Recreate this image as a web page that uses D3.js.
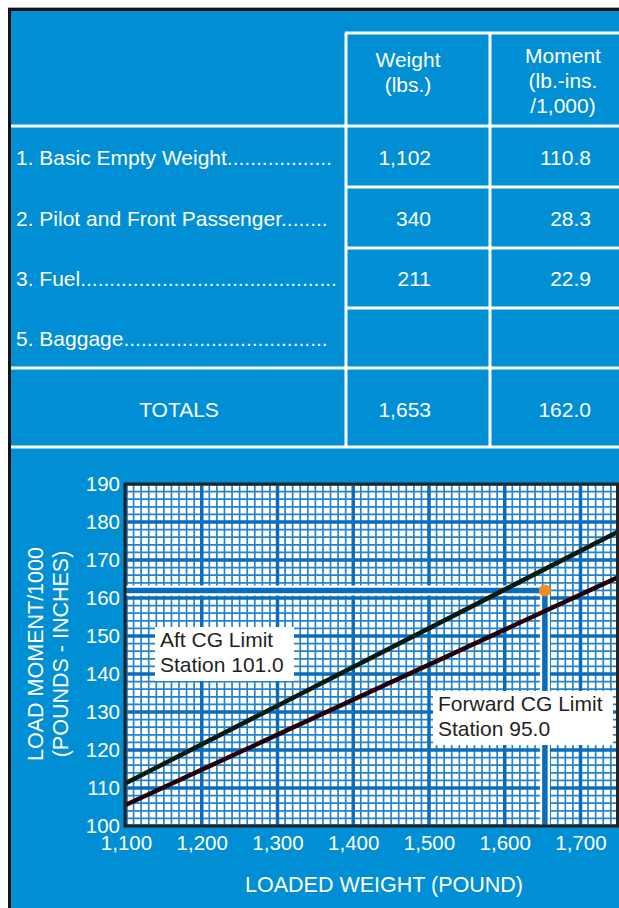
<!DOCTYPE html>
<html>
<head>
<meta charset="utf-8">
<script src="https://cdn.jsdelivr.net/npm/d3@7"></script>
<style>
  body { margin: 0; background: #fff; }
  svg { display: block; font-family: "Liberation Sans", Arial, sans-serif; }
</style>
</head>
<body>
<svg id="chart" width="619" height="908"></svg>
<script>
// table data
const rowLabels = ['1. Basic Empty Weight', '2. Pilot and Front Passenger', '3. Fuel', '5. Baggage'];
const rowDots = [18, 8, 44, 35];
const rowWeights = ['1,102', '340', '211', ''];
const rowMoments = ['110.8', '28.3', '22.9', ''];
const totalWeight = 1653;
const totalMoment = 162.0;

// chart data
const xTicks = [1100, 1200, 1300, 1400, 1500, 1600, 1700];
const yTicks = [100, 110, 120, 130, 140, 150, 160, 170, 180, 190];
const aftLimit = [[1100, 111.3], [1750, 177.5]];     // station 101.0
const forwardLimit = [[1100, 105.6], [1750, 165.5]]; // station 95.0

const blue = '#008fd5';
const gridBlue = '#2483cc';
const majorBlue = '#0a6dbc';

const svg = d3.select('#chart');

// panel
svg.append('rect').attr('x', 8).attr('y', 7).attr('width', 620).attr('height', 910)
  .attr('fill', '#aaa');
svg.append('rect').attr('x', 8).attr('y', 8).attr('width', 620).attr('height', 910)
  .attr('fill', '#111');
svg.append('rect').attr('x', 11).attr('y', 11).attr('width', 620).attr('height', 910)
  .attr('fill', blue);

// ---- table ----
const t = svg.append('g');
const white = (x1, y1, x2, y2) => t.append('line')
  .attr('x1', x1).attr('y1', y1).attr('x2', x2).attr('y2', y2)
  .attr('stroke', '#fff').attr('stroke-width', 3);

white(345, 33, 619, 33);
white(11, 126, 619, 126);
[187, 248, 308].forEach(y => white(346, y, 619, y));
white(11, 368, 619, 368);
white(11, 447, 619, 447);
white(346, 33, 346, 447);
white(490, 33, 490, 447);

const txt = (x, y, s, anchor) => t.append('text')
  .attr('x', x).attr('y', y).attr('text-anchor', anchor || 'middle')
  .attr('fill', '#fff').attr('font-size', 21).text(s);

txt(408, 67, 'Weight');
txt(408, 92, '(lbs.)');
txt(563, 63, 'Moment');
txt(563, 88, '(lb.-ins.');
txt(563, 113, '/1,000)');

const rowY = [165, 226, 286, 346];
rowLabels.forEach((s, i) => {
  txt(16, rowY[i], s + '.'.repeat(rowDots[i]), 'start');
  txt(431, rowY[i], rowWeights[i], 'end');
  txt(591, rowY[i], rowMoments[i], 'end');
});
txt(179, 417, 'TOTALS');
txt(431, 417, d3.format(',')(totalWeight), 'end');
txt(591, 417, d3.format('.1f')(totalMoment), 'end');

// ---- chart ----
const pLeft = 125, pTop = 484, pBottom = 826, pRight = 617.5;
const x = d3.scaleLinear().domain([1100, 1700]).range([126, 580.5]);
const y = d3.scaleLinear().domain([100, 190]).range([pBottom, pTop]);

const plot = svg.append('g');
plot.append('clipPath').attr('id', 'clip').append('rect')
  .attr('x', pLeft).attr('y', pTop).attr('width', pRight - pLeft).attr('height', pBottom - pTop);
const g = plot.append('g').attr('clip-path', 'url(#clip)');

g.append('rect').attr('x', pLeft).attr('y', pTop).attr('width', pRight - pLeft)
  .attr('height', pBottom - pTop).attr('fill', '#fff');

// minor grid
g.selectAll('.vminor').data(d3.range(1100, 1770, 10)).join('line')
  .attr('x1', d => x(d)).attr('x2', d => x(d)).attr('y1', pTop).attr('y2', pBottom)
  .attr('stroke', gridBlue).attr('stroke-width', 1.7);
g.selectAll('.hminor').data(d3.range(100, 191, 2)).join('line')
  .attr('y1', d => y(d)).attr('y2', d => y(d)).attr('x1', pLeft).attr('x2', pRight)
  .attr('stroke', gridBlue).attr('stroke-width', 1.7);
// major grid
g.selectAll('.vmajor').data(d3.range(1100, 1800, 100)).join('line')
  .attr('x1', d => x(d)).attr('x2', d => x(d)).attr('y1', pTop).attr('y2', pBottom)
  .attr('stroke', majorBlue).attr('stroke-width', 3.5);
g.selectAll('.hmajor').data(yTicks).join('line')
  .attr('y1', d => y(d)).attr('y2', d => y(d)).attr('x1', pLeft).attr('x2', pRight)
  .attr('stroke', majorBlue).attr('stroke-width', 3.5);

// reading lines for the totals
const px = x(totalWeight), py = y(totalMoment);
g.append('line').attr('x1', pLeft).attr('x2', px).attr('y1', py).attr('y2', py)
  .attr('stroke', '#fff').attr('stroke-width', 10);
g.append('line').attr('x1', px).attr('x2', px).attr('y1', py).attr('y2', pBottom)
  .attr('stroke', '#fff').attr('stroke-width', 10);
g.append('line').attr('x1', pLeft).attr('x2', px).attr('y1', py).attr('y2', py)
  .attr('stroke', majorBlue).attr('stroke-width', 5.5);
g.append('line').attr('x1', px).attr('x2', px).attr('y1', py).attr('y2', pBottom)
  .attr('stroke', majorBlue).attr('stroke-width', 5.5);

// limit lines
const line = d3.line().x(d => x(d[0])).y(d => y(d[1]));
g.append('path').datum(aftLimit).attr('d', line)
  .attr('stroke', '#031a0c').attr('stroke-width', 4.5).attr('fill', 'none');
g.append('path').datum(forwardLimit).attr('d', line)
  .attr('stroke', '#240006').attr('stroke-width', 4.5).attr('fill', 'none');

g.append('circle').attr('cx', px).attr('cy', py).attr('r', 6).attr('fill', '#f28a26');

// limit labels
const label = (bx, by, w, lines) => {
  g.append('rect').attr('x', bx).attr('y', by).attr('width', w).attr('height', 54).attr('fill', '#fff');
  lines.forEach((s, i) => g.append('text').attr('x', bx + 5).attr('y', by + 20 + i * 25)
    .attr('fill', '#231f20').attr('font-size', 21).text(s));
};
label(155, 627, 139, ['Aft CG Limit', 'Station 101.0']);
label(433, 691, 180, ['Forward CG Limit', 'Station 95.0']);

// frame
plot.append('rect').attr('x', pLeft).attr('y', pTop)
  .attr('width', pRight - pLeft).attr('height', pBottom - pTop)
  .attr('fill', 'none').attr('stroke', '#222').attr('stroke-width', 3);

// axes
const xAxis = svg.append('g').attr('transform', `translate(0,${pBottom})`)
  .call(d3.axisBottom(x).tickValues(xTicks).tickFormat(d3.format(',')).tickSize(0).tickPadding(9));
const yAxis = svg.append('g').attr('transform', `translate(${pLeft},0)`)
  .call(d3.axisLeft(y).tickValues(yTicks).tickSize(0).tickPadding(5));
[xAxis, yAxis].forEach(a => {
  a.select('.domain').remove();
  a.selectAll('text').attr('fill', '#fff').attr('font-size', 20.5)
    .attr('font-family', '"Liberation Sans", Arial, sans-serif');
});
yAxis.selectAll('text').attr('dy', '0.3em');

svg.append('text').attr('x', 384).attr('y', 892).attr('text-anchor', 'middle')
  .attr('fill', '#fff').attr('font-size', 21.5).text('LOADED WEIGHT (POUND)');
svg.append('text').attr('transform', 'translate(43,654) rotate(-90)').attr('text-anchor', 'middle')
  .attr('fill', '#fff').attr('font-size', 21.5).text('LOAD MOMENT/1000');
svg.append('text').attr('transform', 'translate(68,654) rotate(-90)').attr('text-anchor', 'middle')
  .attr('fill', '#fff').attr('font-size', 21.5).text('(POUNDS - INCHES)');
</script>
</body>
</html>
